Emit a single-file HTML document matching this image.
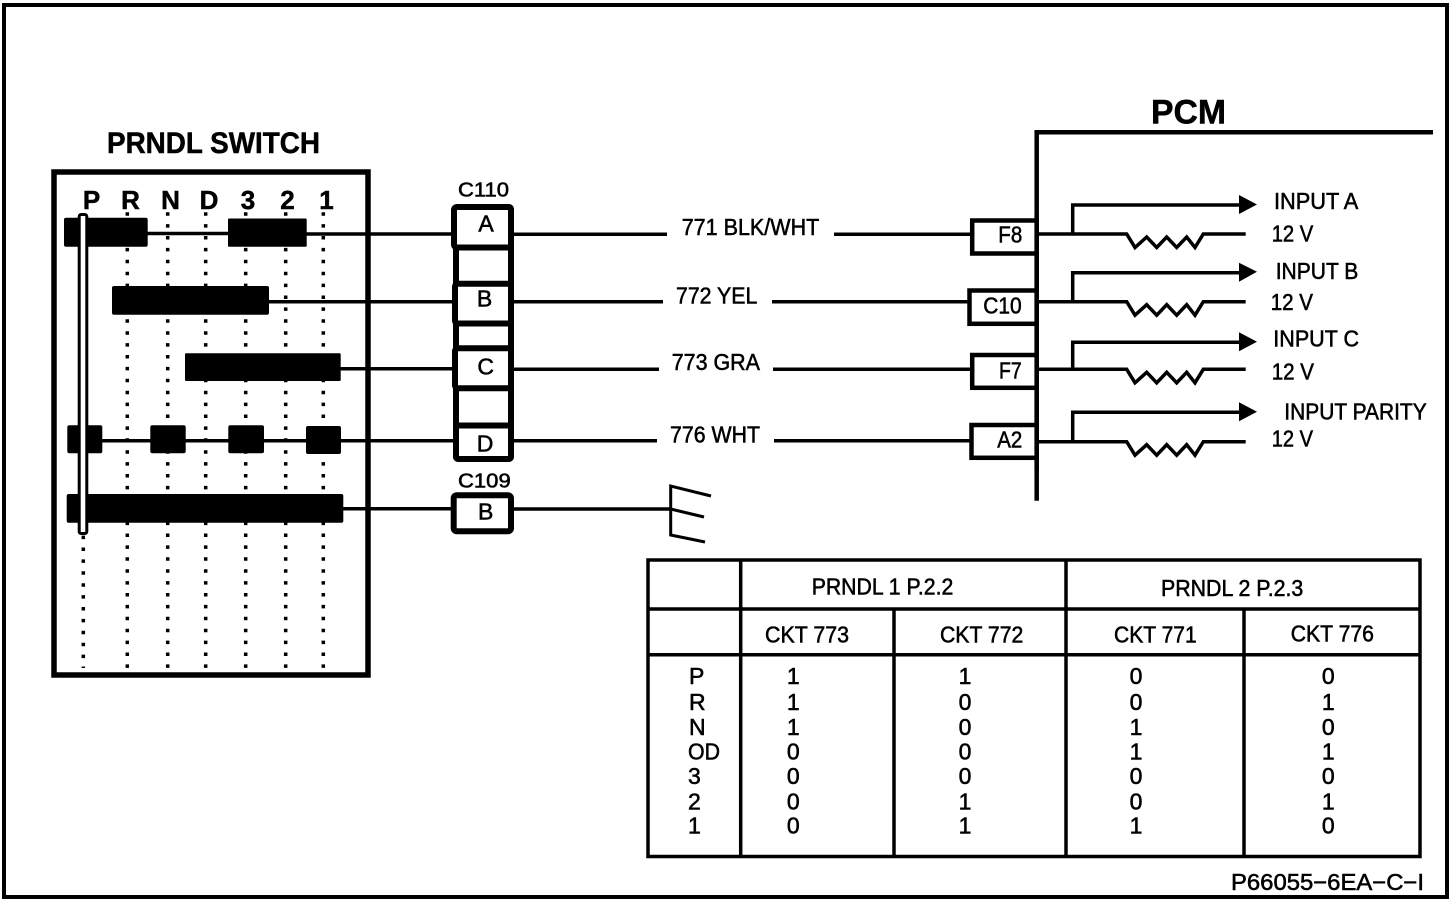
<!DOCTYPE html>
<html><head><meta charset="utf-8"><title>PRNDL Switch</title>
<style>
html,body{margin:0;padding:0;background:#fff}
svg{display:block}
text{font-family:"Liberation Sans",Arial,sans-serif;fill:#000;stroke:#000;stroke-width:.55;font-size:23px}
.b{font-weight:bold;stroke-width:.5}
.m{text-anchor:middle}
.w{fill:none;stroke:#000;stroke-width:3.5}
.d{fill:none;stroke:#000;stroke-width:3.5;stroke-dasharray:3.5 8.4}
.k{fill:#000}
.c{fill:#fff;stroke:#000;stroke-width:6}
.p{fill:#fff;stroke:#000;stroke-width:4.5}
.t{fill:none;stroke:#000;stroke-width:3.5}
</style></head><body>
<svg xmlns="http://www.w3.org/2000/svg" width="1456" height="904" viewBox="0 0 1456 904">
<rect width="1456" height="904" fill="#fff"/>
<rect x="4" y="5" width="1443" height="892" fill="none" stroke="#000" stroke-width="4"/>

<!-- switch -->
<text class="b" x="107" y="153" style="font-size:29.5px" textLength="213" lengthAdjust="spacingAndGlyphs">PRNDL SWITCH</text>
<rect x="54" y="172" width="314" height="503" fill="#fff" stroke="#000" stroke-width="5.5"/>
<text class="b m" x="91.5" y="209" style="font-size:26px">P</text>
<text class="b m" x="130.5" y="209" style="font-size:26px">R</text>
<text class="b m" x="170.5" y="209" style="font-size:26px">N</text>
<text class="b m" x="209" y="209" style="font-size:26px">D</text>
<text class="b m" x="248" y="209" style="font-size:26px">3</text>
<text class="b m" x="287.5" y="209" style="font-size:26px">2</text>
<text class="b m" x="326.5" y="209" style="font-size:26px">1</text>
<line class="d" x1="83.3" y1="535.6" x2="83.3" y2="668"/>
<line class="d" x1="127.3" y1="212.2" x2="127.3" y2="668"/>
<line class="d" x1="167.7" y1="212.2" x2="167.7" y2="668"/>
<line class="d" x1="205.7" y1="212.2" x2="205.7" y2="668"/>
<line class="d" x1="245.7" y1="212.2" x2="245.7" y2="668"/>
<line class="d" x1="285.7" y1="212.2" x2="285.7" y2="668"/>
<line class="d" x1="323.3" y1="212.2" x2="323.3" y2="668"/>

<line class="w" x1="147" y1="233.5" x2="230" y2="233.5"/>
<line class="w" x1="305" y1="234" x2="453" y2="234"/>
<line class="w" x1="268" y1="301.7" x2="453" y2="301.7"/>
<line class="w" x1="340" y1="368.7" x2="453" y2="368.7"/>
<line class="w" x1="100" y1="440.7" x2="453" y2="440.7"/>
<line class="w" x1="342" y1="508.7" x2="453" y2="508.7"/>

<rect class="k" x="64" y="217.7" width="83.7" height="29" rx="2"/>
<rect class="k" x="228" y="218.5" width="78.7" height="28.2" rx="1"/>
<rect class="k" x="112" y="286" width="157" height="28.7" rx="2"/>
<rect class="k" x="185" y="353.3" width="155.7" height="27.7" rx="1"/>
<rect class="k" x="67.3" y="425.3" width="35" height="28" rx="2"/>
<rect class="k" x="150.3" y="425.3" width="35.4" height="28" rx="2"/>
<rect class="k" x="228.3" y="425.3" width="35.7" height="28" rx="2"/>
<rect class="k" x="306" y="426" width="35" height="28" rx="2"/>
<rect class="k" x="66.7" y="494" width="276.6" height="28.7" rx="2"/>
<rect x="79.2" y="214.5" width="7.6" height="319" rx="2" fill="#fff" stroke="#000" stroke-width="3"/>

<!-- C110 -->
<text x="458" y="196.7" textLength="51" lengthAdjust="spacingAndGlyphs" style="font-size:20px">C110</text>
<rect x="456" y="207" width="55" height="252" rx="2" fill="#fff" stroke="#000" stroke-width="6"/>
<rect class="c" x="454" y="207" width="57" height="40.5" rx="3"/>
<rect class="c" x="455" y="283.7" width="56" height="39.8" rx="3"/>
<rect class="c" x="455" y="348.3" width="56" height="40" rx="3"/>
<rect class="c" x="456" y="425.5" width="55" height="33.5" rx="3"/>
<text class="m" x="486" y="231.7">A</text>
<text class="m" x="484.5" y="306.7">B</text>
<text class="m" x="485.7" y="374.3">C</text>
<text class="m" x="485" y="451.7">D</text>
<text x="458" y="487.3" textLength="52.7" lengthAdjust="spacingAndGlyphs" style="font-size:20px">C109</text>
<rect class="c" x="453.7" y="495.3" width="57.3" height="36" rx="3"/>
<text class="m" x="485.7" y="519.3">B</text>

<!-- wires -->
<line class="w" x1="513" y1="234.3" x2="667" y2="234.3"/>
<line class="w" x1="834" y1="234.3" x2="972" y2="234.3"/>
<line class="w" x1="513" y1="301.7" x2="663" y2="301.7"/>
<line class="w" x1="772" y1="301.7" x2="968" y2="301.7"/>
<line class="w" x1="513" y1="369.3" x2="659" y2="369.3"/>
<line class="w" x1="773" y1="369.3" x2="973" y2="369.3"/>
<line class="w" x1="513" y1="440.7" x2="657" y2="440.7"/>
<line class="w" x1="774" y1="440.7" x2="970" y2="440.7"/>
<line class="w" x1="513" y1="509" x2="671" y2="509"/>
<text x="681.7" y="235" textLength="137.6" lengthAdjust="spacingAndGlyphs">771 BLK/WHT</text>
<text x="676" y="303.3" textLength="81.3" lengthAdjust="spacingAndGlyphs">772 YEL</text>
<text x="671.7" y="370" textLength="88.3" lengthAdjust="spacingAndGlyphs">773 GRA</text>
<text x="670" y="442.7" textLength="90" lengthAdjust="spacingAndGlyphs">776 WHT</text>

<!-- ground -->
<path d="M711 496 L670.7 486 V535 L705 542 M670.7 509 L704 517" fill="none" stroke="#000" stroke-width="3"/>

<!-- PCM -->
<text class="b" x="1151" y="123.3" style="font-size:34px" textLength="75" lengthAdjust="spacingAndGlyphs">PCM</text>
<path d="M1433 132.3 H1036.7 V500.7" fill="none" stroke="#000" stroke-width="4.5"/>
<rect class="p" x="972.2" y="220.5" width="64.5" height="33"/>
<rect class="p" x="969.5" y="290.5" width="67.2" height="33.3"/>
<rect class="p" x="972.2" y="355" width="64.5" height="32.8"/>
<rect class="p" x="971.5" y="425" width="65.2" height="32.8"/>
<line x1="1036.7" y1="215" x2="1036.7" y2="470" stroke="#000" stroke-width="4.5"/>
<text x="998.3" y="242.7" textLength="24" lengthAdjust="spacingAndGlyphs">F8</text>
<text x="983.3" y="313.3" textLength="38.4" lengthAdjust="spacingAndGlyphs">C10</text>
<text x="999" y="378.3" textLength="22.7" lengthAdjust="spacingAndGlyphs">F7</text>
<text x="997.3" y="447.3" textLength="25" lengthAdjust="spacingAndGlyphs">A2</text>

<g fill="none" stroke="#000" stroke-width="3.5">
<path d="M1038 234 H1126.7 L1135 247.5 L1146.7 237 L1156.7 247.5 L1166.7 237 L1176.7 247.5 L1186.7 237 L1195 247.5 L1203.3 234 H1245.7"/>
<path d="M1038 301.7 H1126.7 L1135 315.2 L1146.7 304.7 L1156.7 315.2 L1166.7 304.7 L1176.7 315.2 L1186.7 304.7 L1195 315.2 L1203.3 301.7 H1245.7"/>
<path d="M1038 369.3 H1126.7 L1135 382.8 L1146.7 372.3 L1156.7 382.8 L1166.7 372.3 L1176.7 382.8 L1186.7 372.3 L1195 382.8 L1203.3 369.3 H1245.7"/>
<path d="M1038 441.7 H1126.7 L1135 455.2 L1146.7 444.7 L1156.7 455.2 L1166.7 444.7 L1176.7 455.2 L1186.7 444.7 L1195 455.2 L1203.3 441.7 H1245.7"/>
<path d="M1072.7 234 V205 H1240"/>
<path d="M1072.7 301.7 V272.7 H1240"/>
<path d="M1072.7 369.3 V342.3 H1240"/>
<path d="M1072.7 441.7 V412.3 H1240"/>
</g>
<path class="k" d="M1239 195 L1257 204.5 L1239 214 Z"/>
<path class="k" d="M1239 262.7 L1257 271.7 L1239 281.7 Z"/>
<path class="k" d="M1239 332.3 L1257 341.7 L1239 351.3 Z"/>
<path class="k" d="M1239 402.3 L1257 411.7 L1239 421.3 Z"/>

<text x="1274" y="209" textLength="84.3" lengthAdjust="spacingAndGlyphs">INPUT A</text>
<text x="1271.7" y="241.7" textLength="41.6" lengthAdjust="spacingAndGlyphs">12 V</text>
<text x="1275.7" y="279" textLength="82.6" lengthAdjust="spacingAndGlyphs">INPUT B</text>
<text x="1270.7" y="310" textLength="42.3" lengthAdjust="spacingAndGlyphs">12 V</text>
<text x="1273.3" y="346.7" textLength="85.7" lengthAdjust="spacingAndGlyphs">INPUT C</text>
<text x="1271.7" y="379.3" textLength="42.3" lengthAdjust="spacingAndGlyphs">12 V</text>
<text x="1284.3" y="419.3" textLength="142.4" lengthAdjust="spacingAndGlyphs">INPUT PARITY</text>
<text x="1271.7" y="446.7" textLength="41.3" lengthAdjust="spacingAndGlyphs">12 V</text>

<!-- table -->
<rect class="t" x="648" y="560" width="772" height="296.5"/>
<path class="t" d="M648 609 H1420 M648 654.7 H1420 M740.7 560 V856.5 M1066 560 V856.5 M894 609 V856.5 M1244 609 V856.5"/>
<text x="811.7" y="594.3" textLength="141.6" lengthAdjust="spacingAndGlyphs">PRNDL 1 P.2.2</text>
<text x="1161" y="596" textLength="142.3" lengthAdjust="spacingAndGlyphs">PRNDL 2 P.2.3</text>
<text x="765" y="642.7" textLength="84" lengthAdjust="spacingAndGlyphs">CKT 773</text>
<text x="940" y="642.7" textLength="83.3" lengthAdjust="spacingAndGlyphs">CKT 772</text>
<text x="1114" y="642.7" textLength="82.7" lengthAdjust="spacingAndGlyphs">CKT 771</text>
<text x="1290.7" y="641.7" textLength="83.3" lengthAdjust="spacingAndGlyphs">CKT 776</text>

<text x="689" y="684">P</text>
<text x="689" y="710">R</text>
<text x="689" y="735">N</text>
<text x="688" y="759.3" textLength="32" lengthAdjust="spacingAndGlyphs">OD</text>
<text x="688" y="784">3</text>
<text x="688" y="809.3">2</text>
<text x="688" y="833.3">1</text>

<text class="m" x="793.3" y="684">1</text><text class="m" x="793.3" y="710">1</text><text class="m" x="793.3" y="735">1</text><text class="m" x="793.3" y="759.3">0</text><text class="m" x="793.3" y="784">0</text><text class="m" x="793.3" y="809.3">0</text><text class="m" x="793.3" y="833.3">0</text>
<text class="m" x="965" y="684">1</text><text class="m" x="965" y="710">0</text><text class="m" x="965" y="735">0</text><text class="m" x="965" y="759.3">0</text><text class="m" x="965" y="784">0</text><text class="m" x="965" y="809.3">1</text><text class="m" x="965" y="833.3">1</text>
<text class="m" x="1136" y="684">0</text><text class="m" x="1136" y="710">0</text><text class="m" x="1136" y="735">1</text><text class="m" x="1136" y="759.3">1</text><text class="m" x="1136" y="784">0</text><text class="m" x="1136" y="809.3">0</text><text class="m" x="1136" y="833.3">1</text>
<text class="m" x="1328.3" y="684">0</text><text class="m" x="1328.3" y="710">1</text><text class="m" x="1328.3" y="735">0</text><text class="m" x="1328.3" y="759.3">1</text><text class="m" x="1328.3" y="784">0</text><text class="m" x="1328.3" y="809.3">1</text><text class="m" x="1328.3" y="833.3">0</text>

<text x="1231" y="890" textLength="193" lengthAdjust="spacingAndGlyphs">P66055−6EA−C−I</text>
</svg>
</body></html>
